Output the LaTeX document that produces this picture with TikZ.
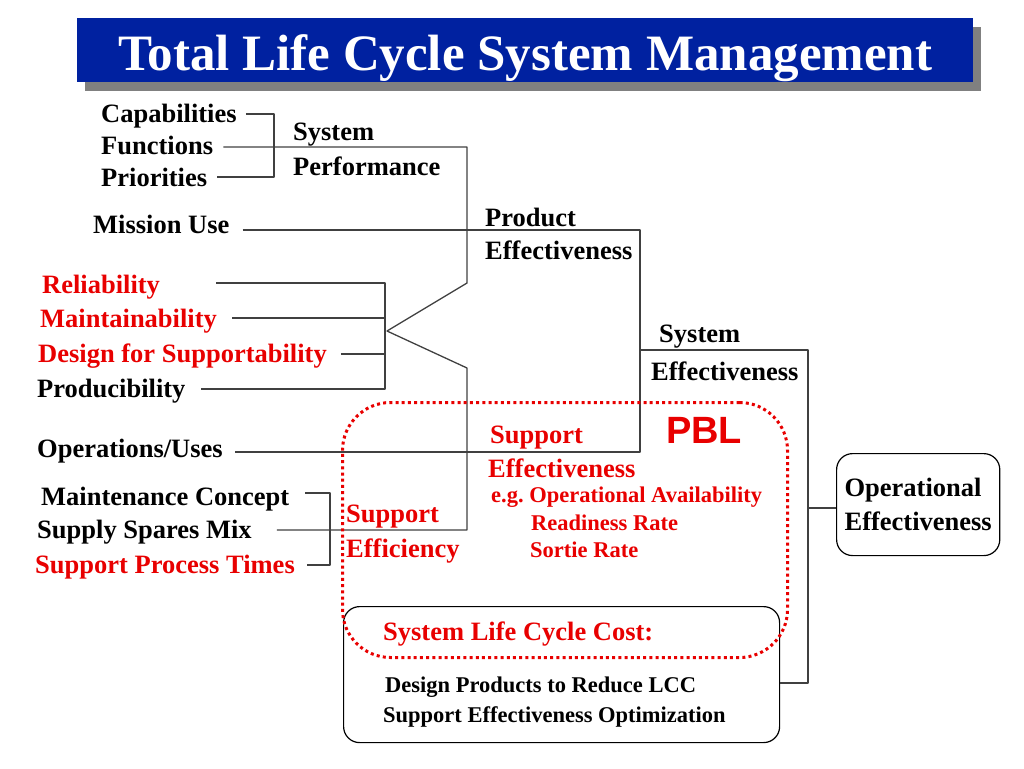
\documentclass[tikz,border=0pt]{standalone}
\usepackage{fontspec}
\setmainfont{Liberation Serif}
\newfontfamily\arialfont{Liberation Sans}
\usetikzlibrary{shadows}
\definecolor{titleblue}{RGB}{0,33,160}
\definecolor{pblred}{RGB}{232,0,0}
\definecolor{linegray}{RGB}{64,64,64}
\begin{document}
\begin{tikzpicture}[x=1pt, y=-1pt, line join=round,
  lab/.style={anchor=base west, inner sep=0pt, font=\bfseries\fontsize{26.5}{30}\selectfont},
  smalllab/.style={lab, font=\bfseries\fontsize{22.5}{26}\selectfont},
  hot/.style={text=pblred},
  wire/.style={draw=linegray, line width=1.3pt},
  roundbox/.style={draw=black, line width=1.2pt, rounded corners=16pt, inner sep=0pt, anchor=north west}]
\useasboundingbox (0,0) rectangle (1024,768);
% title bar
\node[fill=titleblue, anchor=north west, minimum width=896pt, inner xsep=0pt, inner ysep=0pt,
  text height=52pt, text depth=12pt, text=white, font=\bfseries\fontsize{51}{51}\selectfont,
  drop shadow={shadow xshift=8pt, shadow yshift=-9pt, fill=black!50, opacity=1}] (title) at (77,18)
  {Total Life Cycle System Management};
% labels
\node[lab] (cap) at (101,122) {Capabilities};
\node[lab] (fun) at (101,154) {Functions};
\node[lab] (pri) at (101,186) {Priorities};
\node[lab] (sp1) at (293,140) {System};
\node[lab] (sp2) at (293,175) {Performance};
\node[lab] (mis) at (93,233) {Mission Use};
\node[lab] (pe1) at (485,226) {Product};
\node[lab] (pe2) at (485,259) {Effectiveness};
\node[lab,hot] (rel) at (42,293) {Reliability};
\node[lab,hot] (mnt) at (40,327) {Maintainability};
\node[lab,hot] (dfs) at (38,362) {Design for Supportability};
\node[lab] (prd) at (37,397) {Producibility};
\node[lab] (ops) at (37,457) {Operations/Uses};
\node[lab] (mcon) at (41,505) {Maintenance Concept};
\node[lab] (ssm) at (37,538) {Supply Spares Mix};
\node[lab,hot] (spt) at (35,573) {Support Process Times};
\node[lab] (se1) at (659,342) {System};
\node[lab] (se2) at (651,380) {Effectiveness};
\node[lab,hot] (su1) at (490,443) {Support};
\node[lab,hot] (su2) at (488,477) {Effectiveness};
\node[lab,hot] (sf1) at (346,522) {Support};
\node[lab,hot] (sf2) at (346,557) {Efficiency};
\node[smalllab,hot] (eg1) at (491,502) {e.g.\ Operational Availability};
\node[smalllab,hot] (eg2) at (531,530) {Readiness Rate};
\node[smalllab,hot] (eg3) at (530,557) {Sortie Rate};
\node[anchor=base west, inner sep=0pt, text=pblred, font=\arialfont\bfseries\fontsize{38}{38}\selectfont] (pbl) at (666,443) {PBL};
% boxes
\node[roundbox, minimum width=162pt, minimum height=102pt, align=left, inner xsep=8pt,
  font=\bfseries\fontsize{26.5}{34}\selectfont] (oe) at (836,453) {Operational\\Effectiveness};
\node[roundbox, minimum width=436pt, minimum height=136pt] (lcc) at (343,606) {};
\node[lab,hot] (lcc1) at (383,640) {System Life Cycle Cost:};
\node[smalllab] (lcc2) at (385,692) {Design Products to Reduce LCC};
\node[smalllab] (lcc3) at (383,722) {Support Effectiveness Optimization};
% junctions
\coordinate (b1) at (274,114);
\coordinate (b2) at (274,177);
\coordinate (k1) at (467,147);
\coordinate (k2) at (467,283);
\coordinate (apex) at (387,331);
\coordinate (k3) at (467,368);
\coordinate (k4) at (467,530);
\coordinate (m1) at (640,230);
\coordinate (m2) at (640,452);
\coordinate (r1) at (385,283);
\coordinate (r2) at (385,318);
\coordinate (r3) at (385,354);
\coordinate (r4) at (385,389);
\coordinate (t1) at (330,493);
\coordinate (t2) at (330,565);
\coordinate (e1) at (640,350);
\coordinate (e2) at (808,350);
\coordinate (e3) at (808,683);
\coordinate (e4) at (808,508);
% connectors
\draw[wire, shorten <=9pt, shorten >=10pt] (cap.east |- b1) -- (b1) -- (b2) -- (pri.east |- b2);
\draw[wire, shorten <=10pt, shorten >=25pt] (fun.east |- k1) -- (k1) -- (k2) -- (apex) -- (k3) -- (k4) -- (ssm.east |- k4);
\draw[wire, shorten <=13pt, shorten >=12pt] (mis.east |- m1) -- (m1) -- (m2) -- (ops.east |- m2);
\draw[wire, shorten <=56pt, shorten >=15pt] (rel.east |- r1) -- (r1) -- (r4) -- (prd.east |- r4);
\draw[wire, shorten <=15pt] (mnt.east |- r2) -- (r2);
\draw[wire, shorten <=14pt] (dfs.east |- r3) -- (r3);
\draw[wire, shorten <=16pt, shorten >=12pt] (mcon.east |- t1) -- (t1) -- (t2) -- (spt.east |- t2);
\draw[wire] (e1) -- (e2) -- (e3) -- (lcc.east |- e3);
\draw[wire] (e4) -- (oe.west |- e4);
% PBL zone
\node[draw=pblred, line width=3pt, dash pattern=on 3pt off 3.2pt, rounded corners=48pt,
  minimum width=445pt, minimum height=255pt, anchor=north west] (zone) at (341,401) {};
\end{tikzpicture}
\end{document}
